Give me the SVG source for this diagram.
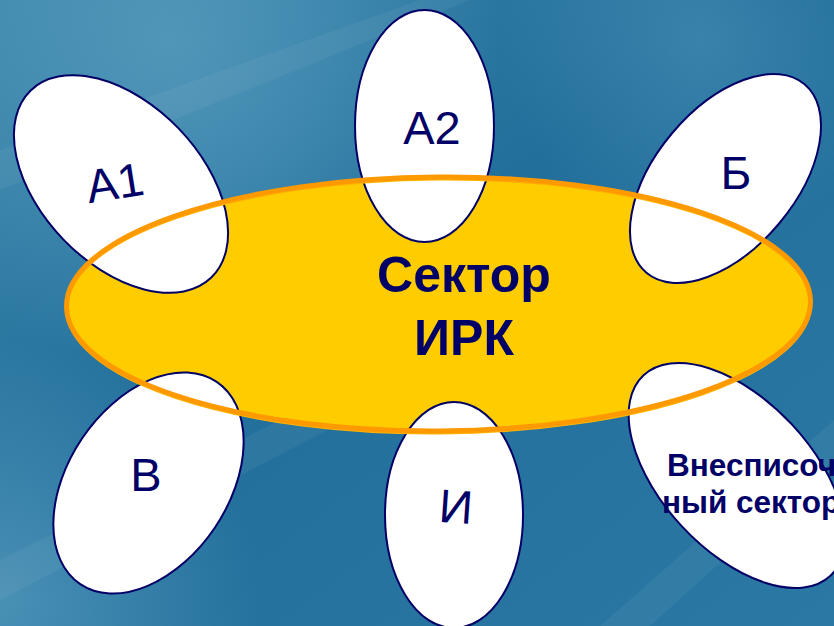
<svg xmlns="http://www.w3.org/2000/svg" width="834" height="626" viewBox="0 0 834 626">
  <defs>
    <linearGradient id="bg" x1="0" y1="0" x2="1" y2="1">
      <stop offset="0" stop-color="#3a85aa"/>
      <stop offset="0.45" stop-color="#226f9b"/>
      <stop offset="1" stop-color="#2a78a3"/>
    </linearGradient>
    <radialGradient id="glowTL" cx="170" cy="40" r="330" gradientUnits="userSpaceOnUse">
      <stop offset="0" stop-color="#5a9ec0" stop-opacity="0.75"/>
      <stop offset="1" stop-color="#5a9ec0" stop-opacity="0"/>
    </radialGradient>
    <radialGradient id="glowBL" cx="0" cy="600" r="260" gradientUnits="userSpaceOnUse">
      <stop offset="0" stop-color="#5a9ec0" stop-opacity="0.7"/>
      <stop offset="1" stop-color="#5a9ec0" stop-opacity="0"/>
    </radialGradient>
    <radialGradient id="glowR" cx="700" cy="40" r="200" gradientUnits="userSpaceOnUse">
      <stop offset="0" stop-color="#4f96bb" stop-opacity="0.5"/>
      <stop offset="1" stop-color="#4f96bb" stop-opacity="0"/>
    </radialGradient>
    <style>
      .petal { fill: #ffffff; stroke: #000066; stroke-width: 2; }
      .lbl { font-family: "Liberation Sans", Arial, sans-serif; fill: #000066; font-size: 47px; text-anchor: middle; }
      .bold { font-family: "Liberation Sans", Arial, sans-serif; fill: #000066; font-weight: bold; text-anchor: middle; }
      .side { font-family: "Liberation Sans", Arial, sans-serif; fill: #000066; font-weight: bold; font-size: 31.5px; }
      .streak { fill: #ffffff; opacity: 0.05; }
    </style>
  </defs>

  <!-- background -->
  <rect width="834" height="626" fill="url(#bg)"/>
  <rect width="834" height="626" fill="url(#glowTL)"/>
  <rect width="834" height="626" fill="url(#glowBL)"/>
  <rect width="834" height="626" fill="url(#glowR)"/>
  <polygon class="streak" points="0,150 420,0 470,0 0,190"/>
  <polygon class="streak" points="0,560 520,300 540,320 0,600"/>
  <polygon class="streak" points="600,626 834,420 834,460 650,626"/>

  <!-- central sector fill -->
  <g id="sector-irk">
    <ellipse cx="438.5" cy="304" rx="372" ry="127" transform="rotate(-0.4 438.5 304)" fill="#ffcc00"/>
  </g>

  <g id="node-a1">
    <ellipse class="petal" cx="121" cy="184" rx="130" ry="80" transform="rotate(46 121 184)"/>
    <text class="lbl" x="115" y="199" transform="rotate(-9 115 184)">А1</text>
  </g>
  <g id="node-a2">
    <ellipse class="petal" cx="424.5" cy="126" rx="69.5" ry="116"/>
    <text class="lbl" x="432" y="144">А2</text>
  </g>
  <g id="node-b">
    <ellipse class="petal" cx="725.5" cy="178.5" rx="123" ry="70" transform="rotate(-50 725.5 178.5)"/>
    <text class="lbl" x="736" y="189">Б</text>
  </g>
  <g id="node-v">
    <ellipse class="petal" cx="148.5" cy="483" rx="122" ry="80" transform="rotate(-56 148.5 483)"/>
    <text class="lbl" x="146" y="491">В</text>
  </g>
  <g id="node-i">
    <ellipse class="petal" cx="454" cy="515" rx="69" ry="113"/>
    <text class="lbl" x="456" y="523" transform="rotate(4 456 505)">И</text>
  </g>
  <g id="node-vnespisochny">
    <ellipse class="petal" cx="737" cy="475.5" rx="137" ry="75" transform="rotate(47 737 475.5)"/>
    <text class="side" x="667" y="476">Внесписоч</text>
    <text class="side" x="662" y="513">ный сектор</text>
  </g>

  <!-- central sector outline and label -->
  <g id="sector-irk-outline">
    <ellipse cx="438.5" cy="306" rx="372" ry="127" transform="rotate(-0.4 438.5 304)" fill="none" stroke="#ffb400" stroke-width="3"/>
    <ellipse cx="438.5" cy="304" rx="372" ry="127" transform="rotate(-0.4 438.5 304)" fill="none" stroke="#ff9900" stroke-width="5"/>
    <text class="bold" font-size="50" x="464" y="292">Сектор</text>
    <text class="bold" font-size="50" x="464" y="355">ИРК</text>
  </g>

  <g id="connectors"/>
</svg>
